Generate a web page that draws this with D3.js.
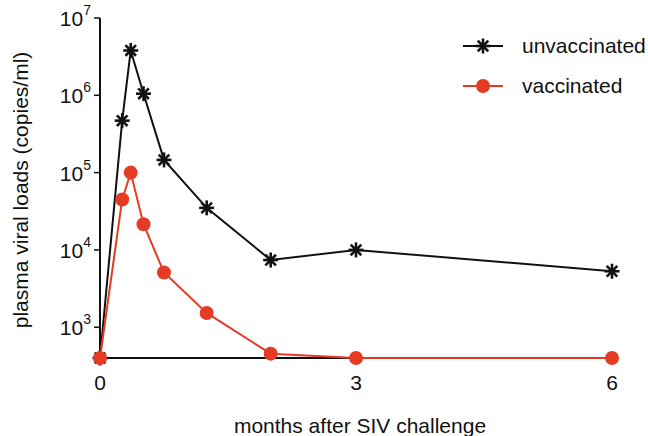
<!DOCTYPE html>
<html>
<head>
<meta charset="utf-8">
<script src="https://cdn.jsdelivr.net/npm/d3@7"></script>
<style>
  body { margin: 0; background: #fff; }
  svg text { font-family: "Liberation Sans", Arial, Helvetica, sans-serif; fill: #111; }
</style>
</head>
<body>
<svg id="chart" width="648" height="436"></svg>
<script>
// Data
const months = [0, 0.26, 0.36, 0.51, 0.75, 1.25, 2, 3, 6];
const unvaccinated = [400, 470000, 3800000, 1050000, 146000, 35000, 7400, 10000, 5300];
const vaccinated = [400, 45000, 100000, 21500, 5100, 1530, 455, 400, 400];
const xTicks = [0, 3, 6];
const yTickExps = [3, 4, 5, 6, 7];
const seriesNames = ["unvaccinated", "vaccinated"];
const colors = { unvaccinated: "#111111", vaccinated: "#e53b24" };

const svg = d3.select("#chart");
const x = d3.scaleLinear().domain([0, 6]).range([100, 612]);
const y = d3.scaleLog().domain([400, 1e7]).range([358, 18]);

const fontSize = 21;

// y axis line
svg.append("line")
  .attr("x1", x(0)).attr("x2", x(0))
  .attr("y1", y(1e7)).attr("y2", y(400))
  .attr("stroke", "#111").attr("stroke-width", 2);
// x axis line
svg.append("line")
  .attr("x1", x(0)).attr("x2", x(6))
  .attr("y1", y(400)).attr("y2", y(400))
  .attr("stroke", "#111").attr("stroke-width", 2);

// y ticks
yTickExps.forEach(e => {
  const yy = y(Math.pow(10, e));
  svg.append("line")
    .attr("x1", x(0) - 6).attr("x2", x(0))
    .attr("y1", yy).attr("y2", yy)
    .attr("stroke", "#111").attr("stroke-width", 1.5);
  const t = svg.append("text")
    .attr("x", x(0) - 9).attr("y", yy + 8)
    .attr("text-anchor", "end")
    .style("font-size", fontSize + "px");
  t.append("tspan").text("10");
  t.append("tspan").attr("dy", -11).style("font-size", "14px").text(e);
});

// x tick labels
xTicks.forEach(v => {
  svg.append("text")
    .attr("x", x(v)).attr("y", y(400) + 32)
    .attr("text-anchor", "middle")
    .style("font-size", fontSize + "px")
    .text(v);
});

// axis titles
svg.append("text")
  .attr("x", 360).attr("y", 433)
  .attr("text-anchor", "middle")
  .style("font-size", fontSize + "px")
  .text("months after SIV challenge");
svg.append("text")
  .attr("transform", "translate(28,190) rotate(-90)")
  .attr("text-anchor", "middle")
  .style("font-size", fontSize + "px")
  .text("plasma viral loads (copies/ml)");

const line = d3.line().x(d => x(d[0])).y(d => y(d[1]));

function star(g, cx, cy, r, color) {
  const angles = [0, 45, 90, 135];
  angles.forEach(a => {
    const rad = a * Math.PI / 180;
    g.append("line")
      .attr("x1", cx - r * Math.cos(rad)).attr("y1", cy - r * Math.sin(rad))
      .attr("x2", cx + r * Math.cos(rad)).attr("y2", cy + r * Math.sin(rad))
      .attr("stroke", color).attr("stroke-width", 2.6);
  });
}

// unvaccinated
const uData = months.map((m, i) => [m, unvaccinated[i]]);
svg.append("path").datum(uData)
  .attr("d", line).attr("fill", "none")
  .attr("stroke", colors.unvaccinated).attr("stroke-width", 2);
const gU = svg.append("g");
uData.forEach(d => star(gU, x(d[0]), y(d[1]), 7.5, colors.unvaccinated));

// vaccinated
const vData = months.map((m, i) => [m, vaccinated[i]]);
svg.append("path").datum(vData)
  .attr("d", line).attr("fill", "none")
  .attr("stroke", colors.vaccinated).attr("stroke-width", 2);
svg.append("g").selectAll("circle").data(vData).join("circle")
  .attr("cx", d => x(d[0])).attr("cy", d => y(d[1]))
  .attr("r", 7).attr("fill", colors.vaccinated);

// legend
const legY = [46, 86];
seriesNames.forEach((name, i) => {
  const ly = legY[i];
  svg.append("line")
    .attr("x1", 463).attr("x2", 503).attr("y1", ly).attr("y2", ly)
    .attr("stroke", colors[name]).attr("stroke-width", 2);
  if (name === "unvaccinated") {
    star(svg, 483, ly, 7.5, colors[name]);
  } else {
    svg.append("circle").attr("cx", 483).attr("cy", ly).attr("r", 7).attr("fill", colors[name]);
  }
  svg.append("text")
    .attr("x", 522).attr("y", ly + 7)
    .style("font-size", fontSize + "px")
    .text(name);
});
</script>
</body>
</html>
